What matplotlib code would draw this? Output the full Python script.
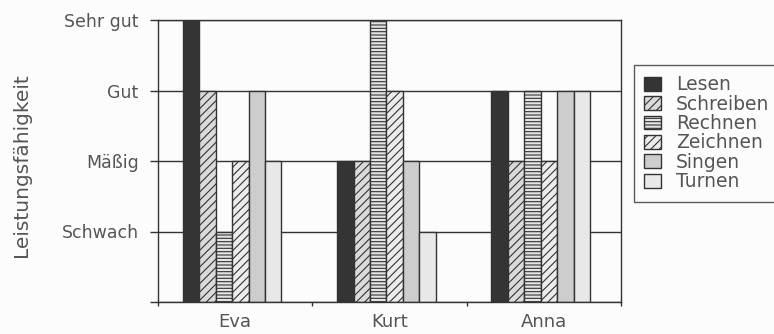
import matplotlib.pyplot as plt
import numpy as np

plt.rcParams['font.family'] = ['DejaVu Sans']
plt.rcParams['hatch.linewidth'] = 0.8

# Schüler und Fächer
schueler = ['Eva', 'Kurt', 'Anna']
faecher = ['Lesen', 'Schreiben', 'Rechnen', 'Zeichnen', 'Singen', 'Turnen']
stufen = ['', 'Schwach', 'Mäßig', 'Gut', 'Sehr gut']

# Bewertung je Fach: 1 = Schwach ... 4 = Sehr gut
lesen = [4, 2, 3]
schreiben = [3, 2, 2]
rechnen = [1, 4, 3]
zeichnen = [2, 3, 2]
singen = [3, 2, 3]
turnen = [2, 1, 3]

werte = [lesen, schreiben, rechnen, zeichnen, singen, turnen]
farben = ['#343434', '#dadada', '#e4e4e4', '#ececec', '#cdcdcd', '#e8e8e8']
muster = ['', '////', '-----', '////', '', '']

text_farbe = '#555555'
linien = '#333333'

fig = plt.figure(figsize=(7.74, 3.34), dpi=100)
fig.patch.set_facecolor('#fcfcfc')
ax = fig.add_axes([158 / 774, 32 / 334, 463 / 774, 282 / 334])
ax.set_facecolor('#fcfcfc')

x = np.arange(len(schueler))
breite = 0.1065
for j, (name, y) in enumerate(zip(faecher, werte)):
    ax.bar(x - 0.02 + (j - 2.5) * breite, y, breite, label=name,
           color=farben[j], hatch=muster[j], edgecolor=linien, linewidth=1.0)

ax.set_xlim(-0.5, 2.5)
ax.set_ylim(0, 4)
ax.set_axisbelow(True)
ax.yaxis.grid(True, color=linien, linewidth=1.0)

ax.set_yticks(range(len(stufen)))
ax.set_yticklabels(stufen)
ax.tick_params(axis='y', length=6, width=1, pad=8, color=linien,
               labelsize=12.5, labelcolor=text_farbe)

# Gruppengrenzen als Striche, Namen mittig darunter
ax.set_xticks([-0.5, 0.5, 1.5, 2.5])
ax.set_xticklabels([])
ax.set_xticks(x, minor=True)
ax.set_xticklabels(schueler, minor=True)
ax.tick_params(axis='x', which='major', length=3, width=1, color=linien)
ax.tick_params(axis='x', which='minor', length=0, pad=8,
               labelsize=13, labelcolor=text_farbe)

for s in ax.spines.values():
    s.set_color(linien)
    s.set_linewidth(1.0)

ax.set_ylabel('Leistungsfähigkeit', fontsize=14.5, color=text_farbe)
ax.yaxis.set_label_coords(-(158 - 31) / 463, (302 - 165) / 282)

leg = fig.legend(loc='upper left', bbox_to_anchor=(634 / 774, 1 - 65 / 334),
                 borderaxespad=0, fontsize=13.5, frameon=True, fancybox=False,
                 handlelength=0.9, handleheight=0.75, handletextpad=0.8,
                 borderpad=0.55, labelspacing=0.02, labelcolor=text_farbe)
leg.get_frame().set_edgecolor(linien)
leg.get_frame().set_linewidth(1.0)
leg.get_frame().set_facecolor('#fcfcfc')

fig.savefig('out.png', dpi=100, facecolor=fig.get_facecolor())
